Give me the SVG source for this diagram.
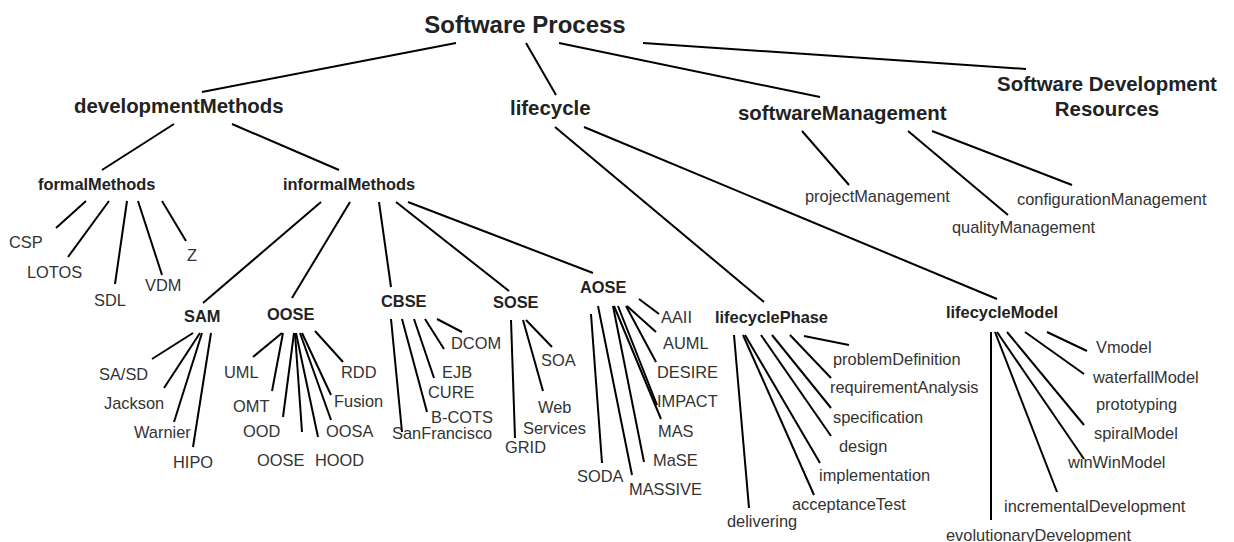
<svg xmlns="http://www.w3.org/2000/svg" width="1234" height="542" viewBox="0 0 1234 542">
<style>
text{font-family:"Liberation Sans",Arial,Helvetica,sans-serif}
.root{font-size:24px;font-weight:bold;fill:#222}
.l1{font-size:20.4px;font-weight:bold;fill:#222}
.l2{font-size:16.4px;font-weight:bold;fill:#222}
.leaf{font-size:16.4px;fill:#333}
#connectors line{stroke:#000;stroke-width:2;fill:none}
</style>
<rect width="1234" height="542" fill="#fff"/>
<g id="connectors">
<line x1="456" y1="43" x2="202" y2="92"/>
<line x1="526" y1="43" x2="556" y2="95"/>
<line x1="559" y1="43" x2="820" y2="97"/>
<line x1="643" y1="43" x2="1026" y2="69"/>
<line x1="174" y1="124" x2="102" y2="170"/>
<line x1="232" y1="124" x2="339" y2="170"/>
<line x1="86" y1="201" x2="56" y2="228"/>
<line x1="109" y1="201" x2="68" y2="257"/>
<line x1="127" y1="201" x2="115" y2="284"/>
<line x1="138" y1="201" x2="162" y2="275"/>
<line x1="162" y1="201" x2="186" y2="241"/>
<line x1="321" y1="202" x2="203" y2="303"/>
<line x1="350" y1="202" x2="292" y2="298"/>
<line x1="379" y1="202" x2="391" y2="287"/>
<line x1="396" y1="202" x2="509" y2="291"/>
<line x1="408" y1="202" x2="593" y2="273"/>
<line x1="555" y1="127" x2="764" y2="302"/>
<line x1="584" y1="127" x2="997" y2="299"/>
<line x1="802" y1="131" x2="849" y2="185"/>
<line x1="908" y1="131" x2="1008" y2="215"/>
<line x1="932" y1="131" x2="1072" y2="185"/>
<line x1="193" y1="333" x2="152" y2="359"/>
<line x1="200" y1="333" x2="164" y2="388"/>
<line x1="202" y1="333" x2="174" y2="422"/>
<line x1="211" y1="333" x2="193" y2="447"/>
<line x1="282" y1="333" x2="253" y2="357"/>
<line x1="283" y1="333" x2="272" y2="391"/>
<line x1="294" y1="333" x2="283" y2="417"/>
<line x1="295" y1="333" x2="302" y2="432"/>
<line x1="296" y1="333" x2="318" y2="437"/>
<line x1="300" y1="333" x2="331" y2="420"/>
<line x1="302" y1="333" x2="331" y2="395"/>
<line x1="315" y1="331" x2="343" y2="362"/>
<line x1="391" y1="319" x2="402" y2="432"/>
<line x1="402" y1="319" x2="427" y2="412"/>
<line x1="414" y1="319" x2="434" y2="378"/>
<line x1="425" y1="319" x2="444" y2="349"/>
<line x1="437" y1="319" x2="462" y2="332"/>
<line x1="511" y1="320" x2="515" y2="438"/>
<line x1="523" y1="320" x2="543" y2="391"/>
<line x1="526" y1="320" x2="552" y2="347"/>
<line x1="591" y1="314" x2="602" y2="463"/>
<line x1="598" y1="306" x2="632" y2="475"/>
<line x1="613" y1="306" x2="644" y2="462"/>
<line x1="614" y1="306" x2="661" y2="419"/>
<line x1="618" y1="306" x2="657" y2="405"/>
<line x1="626" y1="306" x2="656" y2="362"/>
<line x1="627" y1="306" x2="656" y2="332"/>
<line x1="639" y1="299" x2="659" y2="314"/>
<line x1="734" y1="335" x2="749" y2="508"/>
<line x1="743" y1="335" x2="814" y2="495"/>
<line x1="745" y1="335" x2="820" y2="463"/>
<line x1="761" y1="335" x2="831" y2="436"/>
<line x1="772" y1="335" x2="831" y2="408"/>
<line x1="790" y1="335" x2="831" y2="378"/>
<line x1="804" y1="336" x2="849" y2="345"/>
<line x1="991" y1="332" x2="991" y2="520"/>
<line x1="995" y1="332" x2="1057" y2="492"/>
<line x1="997" y1="332" x2="1084" y2="459"/>
<line x1="1007" y1="332" x2="1084" y2="425"/>
<line x1="1025" y1="332" x2="1084" y2="374"/>
<line x1="1047" y1="332" x2="1087" y2="351"/>
</g>
<g id="n-software-process"><text class="root" x="525" y="33" text-anchor="middle">Software Process</text></g>
<g id="n-developmentMethods"><text class="l1" x="74" y="113">developmentMethods</text></g>
<g id="n-lifecycle"><text class="l1" x="510" y="115">lifecycle</text></g>
<g id="n-softwareManagement"><text class="l1" x="738" y="120">softwareManagement</text></g>
<g id="n-sdr"><text class="l1" x="1107" y="91" text-anchor="middle">Software Development</text><text class="l1" x="1107" y="116" text-anchor="middle">Resources</text></g>
<g id="n-formalMethods"><text class="l2" x="38" y="190">formalMethods</text></g>
<g id="n-informalMethods"><text class="l2" x="283" y="190">informalMethods</text></g>
<g id="n-lifecyclePhase"><text class="l2" x="715" y="323">lifecyclePhase</text></g>
<g id="n-lifecycleModel"><text class="l2" x="946" y="318">lifecycleModel</text></g>
<g id="n-SAM"><text class="l2" x="184" y="322">SAM</text></g>
<g id="n-OOSE"><text class="l2" x="267" y="320">OOSE</text></g>
<g id="n-CBSE"><text class="l2" x="381" y="307">CBSE</text></g>
<g id="n-SOSE"><text class="l2" x="493" y="308">SOSE</text></g>
<g id="n-AOSE"><text class="l2" x="580" y="293">AOSE</text></g>
<g id="n-CSP"><text class="leaf" x="9" y="248">CSP</text></g>
<g id="n-LOTOS"><text class="leaf" x="27" y="278">LOTOS</text></g>
<g id="n-SDL"><text class="leaf" x="94" y="306">SDL</text></g>
<g id="n-VDM"><text class="leaf" x="145" y="291">VDM</text></g>
<g id="n-Z"><text class="leaf" x="187" y="261">Z</text></g>
<g id="n-projectManagement"><text class="leaf" x="805" y="202">projectManagement</text></g>
<g id="n-configurationManagement"><text class="leaf" x="1017" y="205">configurationManagement</text></g>
<g id="n-qualityManagement"><text class="leaf" x="952" y="233">qualityManagement</text></g>
<g id="n-SASD"><text class="leaf" x="99" y="380">SA/SD</text></g>
<g id="n-Jackson"><text class="leaf" x="104" y="409">Jackson</text></g>
<g id="n-Warnier"><text class="leaf" x="134" y="438">Warnier</text></g>
<g id="n-HIPO"><text class="leaf" x="173" y="468">HIPO</text></g>
<g id="n-UML"><text class="leaf" x="224" y="378">UML</text></g>
<g id="n-OMT"><text class="leaf" x="233" y="412">OMT</text></g>
<g id="n-OOD"><text class="leaf" x="243" y="437">OOD</text></g>
<g id="n-OOSE-leaf"><text class="leaf" x="257" y="466">OOSE</text></g>
<g id="n-HOOD"><text class="leaf" x="315" y="466">HOOD</text></g>
<g id="n-OOSA"><text class="leaf" x="326" y="437">OOSA</text></g>
<g id="n-Fusion"><text class="leaf" x="334" y="407">Fusion</text></g>
<g id="n-RDD"><text class="leaf" x="341" y="378">RDD</text></g>
<g id="n-SanFrancisco"><text class="leaf" x="392" y="439">SanFrancisco</text></g>
<g id="n-BCOTS"><text class="leaf" x="431" y="423">B-COTS</text></g>
<g id="n-CURE"><text class="leaf" x="428" y="398">CURE</text></g>
<g id="n-EJB"><text class="leaf" x="442" y="378">EJB</text></g>
<g id="n-DCOM"><text class="leaf" x="451" y="349">DCOM</text></g>
<g id="n-GRID"><text class="leaf" x="505" y="453">GRID</text></g>
<g id="n-WebServices"><text class="leaf" x="538" y="413">Web</text><text class="leaf" x="523" y="434">Services</text></g>
<g id="n-SOA"><text class="leaf" x="541" y="366">SOA</text></g>
<g id="n-SODA"><text class="leaf" x="577" y="482">SODA</text></g>
<g id="n-MASSIVE"><text class="leaf" x="629" y="495">MASSIVE</text></g>
<g id="n-MaSE"><text class="leaf" x="653" y="466">MaSE</text></g>
<g id="n-MAS"><text class="leaf" x="658" y="437">MAS</text></g>
<g id="n-IMPACT"><text class="leaf" x="657" y="407">IMPACT</text></g>
<g id="n-DESIRE"><text class="leaf" x="657" y="378">DESIRE</text></g>
<g id="n-AUML"><text class="leaf" x="663" y="349">AUML</text></g>
<g id="n-AAII"><text class="leaf" x="661" y="323">AAII</text></g>
<g id="n-delivering"><text class="leaf" x="727" y="527">delivering</text></g>
<g id="n-acceptanceTest"><text class="leaf" x="792" y="510">acceptanceTest</text></g>
<g id="n-implementation"><text class="leaf" x="819" y="481">implementation</text></g>
<g id="n-design"><text class="leaf" x="839" y="452">design</text></g>
<g id="n-specification"><text class="leaf" x="833" y="423">specification</text></g>
<g id="n-requirementAnalysis"><text class="leaf" x="830" y="393">requirementAnalysis</text></g>
<g id="n-problemDefinition"><text class="leaf" x="833" y="365">problemDefinition</text></g>
<g id="n-evolutionaryDevelopment"><text class="leaf" x="946" y="541">evolutionaryDevelopment</text></g>
<g id="n-incrementalDevelopment"><text class="leaf" x="1004" y="512">incrementalDevelopment</text></g>
<g id="n-winWinModel"><text class="leaf" x="1068" y="468">winWinModel</text></g>
<g id="n-spiralModel"><text class="leaf" x="1094" y="439">spiralModel</text></g>
<g id="n-prototyping"><text class="leaf" x="1096" y="410">prototyping</text></g>
<g id="n-waterfallModel"><text class="leaf" x="1093" y="383">waterfallModel</text></g>
<g id="n-Vmodel"><text class="leaf" x="1096" y="353">Vmodel</text></g>
</svg>
